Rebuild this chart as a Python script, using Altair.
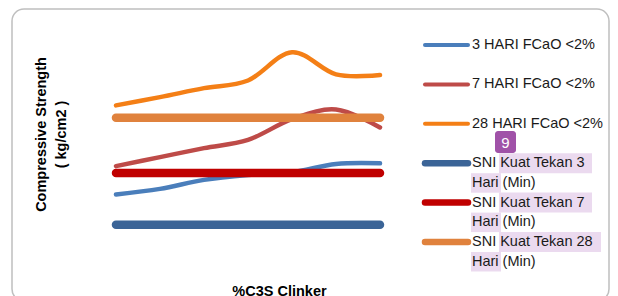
import altair as alt
import pandas as pd

# x positions (%C3S clinker samples, axis shows no labels)
c3s_points = [1, 2, 3, 4, 5, 6, 7]

# compressive strength (kg/cm2)
hari3 = [169, 177, 190, 197, 201, 213, 214]
hari7 = [210, 223, 236, 248, 278, 292, 266]
hari28 = [298, 310, 323, 334, 375, 343, 342]
sni3 = 125
sni7 = 200
sni28 = 280

series_names = [
    "3 HARI FCaO <2%",
    "7 HARI FCaO <2%",
    "28 HARI FCaO <2%",
    "SNI Kuat Tekan 3\nHari (Min)",
    "SNI Kuat Tekan 7\nHari (Min)",
    "SNI Kuat Tekan 28\nHari (Min)",
]
series_colors = ["#4A7EBB", "#BE4B48", "#F47F16", "#3B6497", "#C00000", "#E0823D"]
series_widths = [4.5, 4.5, 4.5, 8.5, 8.5, 8.5]
legend_widths = [4, 4, 4, 6.5, 6.5, 6.5]

series_values = [hari3, hari7, hari28,
                 [sni3] * len(c3s_points), [sni7] * len(c3s_points), [sni28] * len(c3s_points)]

rows = []
for k, (name, vals) in enumerate(zip(series_names, series_values)):
    for x, v in zip(c3s_points, vals):
        rows.append({"c3s": x, "strength": v, "series": name, "k": k})
df = pd.DataFrame(rows)

leg = pd.DataFrame({"series": series_names, "k": list(range(len(series_names))),
                    "lw": legend_widths})

FONT = "Liberation Sans"
color_scale = alt.Scale(domain=series_names, range=series_colors)
leg_y = alt.Y("k:Q", scale=alt.Scale(domain=[0, 5], range=[10, 207]), axis=None)

lines = alt.Chart(df).mark_line(interpolate="cardinal", strokeCap="round").encode(
    x=alt.X("c3s:Q", scale=alt.Scale(domain=[1, 7], nice=False, zero=False),
            axis=alt.Axis(title="%C3S Clinker", labels=False, ticks=False, domain=False, grid=False,
                          titleFont=FONT, titleFontSize=14.5, titleFontWeight="bold",
                          titleColor="#000", titleX=163, titleY=42, titleBaseline="top",
                          titleAlign="center")),
    y=alt.Y("strength:Q", scale=alt.Scale(domain=[100, 400], nice=False, zero=False),
            axis=alt.Axis(title=["Compressive Strength", "( kg/cm2 )"], labels=False, ticks=False,
                          domain=False, grid=False,
                          titleFont=FONT, titleFontSize=14.5, titleFontWeight="bold",
                          titleColor="#000", titleX=-75, titleY=99, titleAngle=270,
                          titleAlign="center", titleBaseline="middle", titleLineHeight=20)),
    color=alt.Color("series:N", scale=color_scale, legend=None),
    strokeWidth=alt.StrokeWidth("series:N",
                                scale=alt.Scale(type="ordinal", domain=series_names, range=series_widths),
                                legend=None),
    order=alt.Order("k:Q"),
)

# hand-drawn legend
leg_rules = alt.Chart(leg).mark_rule(strokeCap="round").encode(
    y=leg_y, x=alt.value(309), x2=alt.value(352),
    color=alt.Color("series:N", scale=color_scale, legend=None),
    strokeWidth=alt.StrokeWidth("lw:Q", scale=None, legend=None),
)

hl_color = "#EBDAEF"
leg_sni = leg[leg["k"] >= 3]
hl_kuat = alt.Chart(leg_sni[leg_sni["k"] < 5]).mark_rect(
    fill=hl_color, yOffset=-10, y2Offset=10
).encode(y=leg_y, y2="k:Q", x=alt.value(383), x2=alt.value(476))
hl_kuat28 = alt.Chart(leg_sni[leg_sni["k"] == 5]).mark_rect(
    fill=hl_color, yOffset=-10, y2Offset=10
).encode(y=leg_y, y2="k:Q", x=alt.value(383), x2=alt.value(485))
hl_hari = alt.Chart(leg_sni).mark_rect(
    fill=hl_color, yOffset=10, y2Offset=29.5
).encode(y=leg_y, y2="k:Q", x=alt.value(355), x2=alt.value(385))

leg_text = alt.Chart(leg).mark_text(
    align="left", baseline="middle", lineHeight=19.5, font=FONT, fontSize=14.5,
    color="#1a1a1a", lineBreak="\n"
).encode(y=leg_y, x=alt.value(356), text="series:N")

# comment badge
badge = alt.Chart(alt.Data(values=[{"t": "9"}])).mark_rect(
    fill="#A052A8", cornerRadius=3
).encode(x=alt.value(379), x2=alt.value(400), y=alt.value(96), y2=alt.value(118))
badge_text = alt.Chart(alt.Data(values=[{"t": "9"}])).mark_text(
    font=FONT, fontSize=15, color="white", align="center", baseline="middle"
).encode(x=alt.value(389.5), y=alt.value(107.5), text="t:N")

frame = alt.Chart(alt.Data(values=[{"a": 1}])).mark_rect(
    fill="transparent", stroke="#BFBFBF", strokeWidth=1.5, cornerRadius=12
).encode(x=alt.value(-104), x2=alt.value(493), y=alt.value(-26), y2=alt.value(266))

chart = alt.layer(
    frame, lines, leg_rules, hl_kuat, hl_kuat28, hl_hari, leg_text, badge, badge_text
).resolve_scale(y="independent").properties(
    width=264, height=207,
    autosize=alt.AutoSizeParams(type="none"),
    padding={"left": 108, "top": 27, "right": 230, "bottom": 54},
).configure_view(stroke=None)

chart.save("out.html", embed_options={"renderer": "svg", "actions": False})
